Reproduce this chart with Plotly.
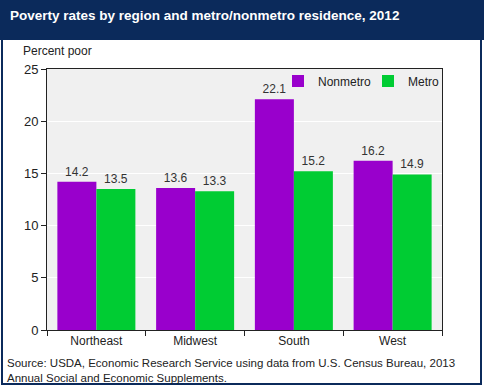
import plotly.graph_objects as go

regions = ["Northeast", "Midwest", "South", "West"]
nonmetro = [14.2, 13.6, 22.1, 16.2]
metro = [13.5, 13.3, 15.2, 14.9]
series_names = ["Nonmetro", "Metro"]
colors = ["#9900cc", "#00cc33"]
title_text = "Poverty rates by region and metro/nonmetro residence, 2012"
y_label = "Percent poor"
source_text = "Source: USDA, Economic Research Service using data from U.S. Census Bureau, 2013<br>Annual Social and Economic Supplements."

W, H = 484, 387
ml, mr, mt, mb = 47, 42, 69, 57
pw, ph = W - ml - mr, H - mt - mb

def px_x(x):
    return (x - ml) / pw

def px_y(y):
    return (H - mb - y) / ph

fig = go.Figure()
for name, vals, col in zip(series_names, [nonmetro, metro], colors):
    fig.add_trace(go.Bar(
        x=regions, y=vals, name=name, marker=dict(color=col, line=dict(width=0)),
        text=[f"{v:.1f}" for v in vals], textposition="outside",
        textfont=dict(size=12, color="#333333", family="Arial"), cliponaxis=False,
    ))

fig.update_layout(
    width=W, height=H, barmode="group", bargap=0.21, bargroupgap=0,
    margin=dict(l=ml, r=mr, t=mt, b=mb),
    paper_bgcolor="white", plot_bgcolor="#f0f0f0",
    font=dict(family="Arial", size=12, color="#222222"),
    showlegend=True,
    legend=dict(orientation="h", x=px_x(458), xanchor="right", y=1.01, yanchor="top",
                bgcolor="rgba(0,0,0,0)", font=dict(size=12, color="#222222"),
                itemwidth=30, traceorder="normal",
                entrywidth=45, entrywidthmode="pixels"),
    xaxis=dict(showline=True, linecolor="#222222", linewidth=1, mirror=True,
               ticks="outside", ticklen=5, tickcolor="#222222", tickson="boundaries",
               tickfont=dict(size=12, color="#222222")),
    yaxis=dict(range=[0, 25], dtick=5, showline=True, linecolor="#222222", linewidth=1,
               mirror=True, ticks="outside", ticklen=5, tickcolor="#222222",
               gridcolor="white", gridwidth=1, zeroline=False,
               tickfont=dict(size=13, color="#222222")),
)

shapes = [
    dict(type="rect", xref="paper", yref="paper",
         x0=px_x(0), x1=px_x(W), y0=px_y(40), y1=px_y(0),
         fillcolor="#0b2a5b", line=dict(width=0), layer="below"),
    dict(type="rect", xref="paper", yref="paper",
         x0=px_x(2), x1=px_x(481), y0=px_y(384), y1=px_y(1),
         fillcolor="rgba(0,0,0,0)", line=dict(width=2, color="#0b2a5b")),
]
fig.update_layout(shapes=shapes)

fig.add_annotation(text=f"<b>{title_text}</b>", xref="paper", yref="paper",
                   x=px_x(8), y=px_y(15), xanchor="left", yanchor="middle",
                   showarrow=False, font=dict(size=13.5, color="white", family="Arial"))
fig.add_annotation(text=y_label, xref="paper", yref="paper",
                   x=px_x(21), y=px_y(51), xanchor="left", yanchor="middle",
                   showarrow=False, font=dict(size=12, color="#222222"))
fig.add_annotation(text=source_text, xref="paper", yref="paper",
                   x=px_x(5), y=px_y(370), xanchor="left", yanchor="middle", align="left",
                   showarrow=False, font=dict(size=11.5, color="#222222"))

fig.write_html("out.html", config={"displayModeBar": False},
               post_script="document.body.style.margin='0';document.body.style.overflow='hidden';")
